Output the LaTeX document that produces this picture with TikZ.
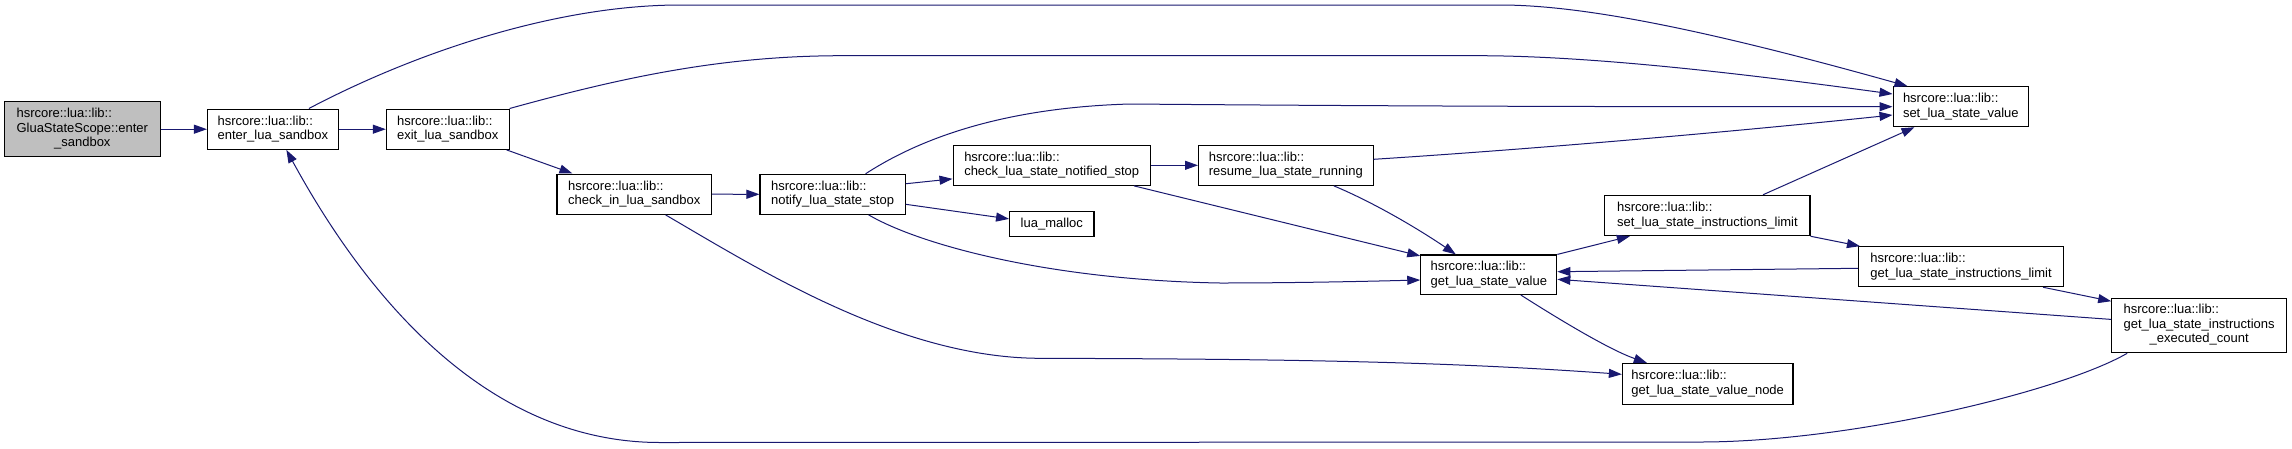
\documentclass[tikz,border=0pt]{standalone}
\usepackage{fontspec}
\newfontfamily\fnt{Liberation Sans}
\usetikzlibrary{arrows.meta,calc}
\definecolor{edgeblue}{HTML}{191970}
\definecolor{nodegray}{HTML}{BFBFBF}
\begin{document}
\begin{tikzpicture}[x=1pt,y=-1pt,
  fn/.style={draw=black,line width=1.1pt,fill=white,inner sep=0pt,align=left,font=\fnt\fontsize{13}{14.5}\selectfont},
  call/.style={draw=edgeblue,line width=1pt,-{Triangle[length=13pt,width=9pt]}}]
\fill[white] (0,0) rectangle (2292,448);
\useasboundingbox (0,0) rectangle (2292,448);

% nodes
\node[fn,fill=nodegray,minimum width=155.5,minimum height=55] (glua) at (82.3,129.2)
  {\begin{tabular}{@{}l@{}}hsrcore::lua::lib::\\GluaStateScope::enter\\\multicolumn{1}{@{}c@{}}{\_sandbox}\end{tabular}};
\node[fn,minimum width=130.8,minimum height=40.3] (enter) at (272.9,129.2) {hsrcore::lua::lib::\\enter\_lua\_sandbox};
\node[fn,minimum width=122.7,minimum height=40.3] (exit) at (447.7,129.2) {hsrcore::lua::lib::\\exit\_lua\_sandbox};
\node[fn,minimum width=154.6,minimum height=40.3] (checkin) at (634.3,194.2) {hsrcore::lua::lib::\\check\_in\_lua\_sandbox};
\node[fn,minimum width=145.2,minimum height=40] (notify) at (832.6,194.3) {hsrcore::lua::lib::\\notify\_lua\_state\_stop};
\node[fn,minimum width=197.3,minimum height=40] (checknot) at (1051.7,165.3) {hsrcore::lua::lib::\\check\_lua\_state\_notified\_stop};
\node[fn,minimum width=174.5,minimum height=40] (resume) at (1285.8,165.3) {hsrcore::lua::lib::\\resume\_lua\_state\_running};
\node[fn,minimum width=84.4,minimum height=25.7] (malloc) at (1051.8,223.9) {lua\_malloc};
\node[fn,minimum width=135.5,minimum height=40] (setval) at (1960.8,106.7) {hsrcore::lua::lib::\\set\_lua\_state\_value};
\node[fn,minimum width=136,minimum height=39.5] (getval) at (1488.8,274.7) {hsrcore::lua::lib::\\get\_lua\_state\_value};
\node[fn,minimum width=205.2,minimum height=40.4] (setlim) at (1707.4,215.5) {hsrcore::lua::lib::\\set\_lua\_state\_instructions\_limit};
\node[fn,minimum width=205,minimum height=40] (getlim) at (1961,266.7) {hsrcore::lua::lib::\\get\_lua\_state\_instructions\_limit};
\node[fn,minimum width=174.8,minimum height=54.7] (execcnt) at (2199.1,325.4)
  {\begin{tabular}{@{}l@{}}hsrcore::lua::lib::\\get\_lua\_state\_instructions\\\multicolumn{1}{@{}c@{}}{\_executed\_count}\end{tabular}};
\node[fn,minimum width=170.6,minimum height=40.7] (valnode) at (1707.7,383.7) {hsrcore::lua::lib::\\get\_lua\_state\_value\_node};

% edges
\draw[call] (glua.east) -- (enter.west);
\draw[call] (enter.east) -- (exit.west);
\draw[call] ($(enter.north)+(36,0)$) .. controls (420,50) and (560,5) .. (680,5)
  -- (1500,5) .. controls (1580,5) and (1700,28) .. ($(setval.north west)+(15,0)$);
\draw[call] (exit.north east) .. controls (620,78) and (720,56) .. (840,55.7)
  -- (1480,55.7) .. controls (1600,56) and (1760,76) .. ($(setval.west)+(0,-12.7)$);
\draw[call] ($(exit.south east)+(-3,0)$) -- ($(checkin.north west)+(16,0)$);
\draw[call] (checkin.east) -- (notify.west);
\draw[call] ($(checkin.south)+(31.3,0)$) .. controls (760,270) and (900,358) .. (1040,358.3)
  .. controls (1300,359) and (1450,362) .. ($(valnode.west)+(0,-9.4)$);
\draw[call] ($(notify.north)+(33,0)$) .. controls (910,145) and (990,108) .. (1130,104)
  .. controls (1250,105) and (1500,107) .. (setval.west);
\draw[call] ($(notify.north east)+(0,10)$) -- ($(checknot.south west)+(0,-7)$);
\draw[call] ($(notify.east)+(0,10)$) -- ($(malloc.west)+(0,-5)$);
\draw[call] ($(notify.south)+(36,0)$) .. controls (920,245) and (1050,280) .. (1220,283)
  .. controls (1300,283) and (1380,281) .. ($(getval.west)+(0,5.3)$);
\draw[call] (checknot.east) -- (resume.west);
\draw[call] ($(checknot.south east)+(-17,0)$) -- ($(getval.north west)+(0,1.5)$);
\draw[call] ($(resume.east)+(0,-6)$) .. controls (1550,148) and (1750,130) .. ($(setval.west)+(0,8.3)$);
\draw[call] ($(resume.south)+(48,0)$) .. controls (1375,203) and (1420,230) .. ($(getval.north)+(-33,0)$);
\draw[call] (getval.north east) -- ($(setlim.south west)+(25.6,0)$);
\draw[call] ($(getval.south)+(32,0)$) .. controls (1560,320) and (1610,350) .. ($(valnode.north west)+(25,0)$);
\draw[call] ($(setlim.north)+(55.6,0)$) -- ($(setval.south west)+(22,0)$);
\draw[call] (setlim.south east) -- ($(getlim.north west)+(2,0)$);
\draw[call] ($(getlim.west)+(0,1.6)$) -- ($(getval.east)+(0,-3)$);
\draw[call] ($(getlim.south east)+(-21,0)$) -- ($(execcnt.north west)+(0,3.7)$);
\draw[call] ($(execcnt.west)+(0,-6)$) -- ($(getval.east)+(0,4.6)$);
\draw[call] ($(execcnt.south west)+(16,0)$) .. controls (2060,392) and (1850,442) .. (1700,442)
  -- (660,442.5) .. controls (480,442.5) and (360,285) .. ($(enter.south)+(13.5,0)$);
\end{tikzpicture}
\end{document}
